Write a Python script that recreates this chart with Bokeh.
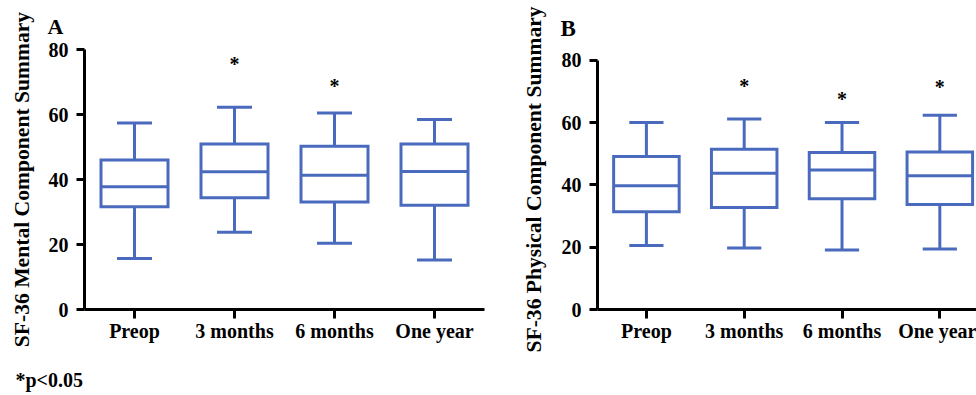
import numpy as np
from bokeh.plotting import figure
from bokeh.layouts import row
from bokeh.models import Range1d, FixedTicker, Title
from bokeh.core.properties import value
from bokeh.embed import file_html
from bokeh.resources import INLINE

categories = ["Preop", "3 months", "6 months", "One year"]

# Panel A: SF-36 Mental Component Summary
mcs_lower = [15.7, 23.8, 20.4, 15.2]
mcs_q1 = [31.6, 34.4, 33.1, 32.1]
mcs_median = [37.8, 42.4, 41.3, 42.5]
mcs_q3 = [46.0, 50.9, 50.2, 50.9]
mcs_upper = [57.4, 62.2, 60.5, 58.5]
mcs_star_x = [2, 3]
mcs_star_y = [76.5, 69.6]

# Panel B: SF-36 Physical Component Summary
pcs_lower = [20.5, 19.7, 19.1, 19.4]
pcs_q1 = [31.4, 32.7, 35.5, 33.7]
pcs_median = [39.7, 43.7, 44.8, 42.9]
pcs_q3 = [49.1, 51.4, 50.4, 50.5]
pcs_upper = [60.0, 61.1, 60.0, 62.3]
pcs_star_x = [2, 3, 4]
pcs_star_y = [72.8, 68.6, 72.2]

y_ticks = [0, 20, 40, 60, 80]

BLUE = "#4a6bbd"
FONT = value("Liberation Serif")
H = 395


def make_panel(width, borders, x_end, y_end, title, title_standoff, lower, q1, med, q3, upper,
               star_x, star_y, letter, letter_offset, letter_standoff, letter_size):
    left, right, top, bottom = borders
    p = figure(width=width, height=H, output_backend="svg", toolbar_location=None,
               x_range=Range1d(0.5, x_end), y_range=Range1d(0, y_end),
               min_border_left=left, min_border_right=right,
               min_border_top=top, min_border_bottom=bottom)
    p.outline_line_color = None
    p.grid.visible = False
    p.background_fill_color = "white"
    p.border_fill_color = "white"

    x = np.arange(1, len(categories) + 1, dtype=float)
    bw = 0.335
    cw = 0.175
    p.vbar(x=x, top=q3, bottom=q1, width=2 * bw, fill_color=None,
           line_color=BLUE, line_width=3, line_join="miter")
    p.segment(x0=x - bw, x1=x + bw, y0=med, y1=med, line_color=BLUE, line_width=3)
    p.segment(x0=x, x1=x, y0=q3, y1=upper, line_color=BLUE, line_width=3)
    p.segment(x0=x, x1=x, y0=q1, y1=lower, line_color=BLUE, line_width=3)
    p.segment(x0=x - cw, x1=x + cw, y0=upper, y1=upper, line_color=BLUE, line_width=3)
    p.segment(x0=x - cw, x1=x + cw, y0=lower, y1=lower, line_color=BLUE, line_width=3)

    p.text(x=star_x, y=star_y, text=["*"] * len(star_x), text_font=FONT,
           text_font_style="bold", text_font_size="20px", text_align="center",
           text_baseline="middle", text_color="black", y_offset=3)

    for ax in (p.xaxis[0], p.yaxis[0]):
        ax.axis_line_width = 3
        ax.axis_line_color = "black"
        ax.major_tick_line_width = 3
        ax.major_tick_line_color = "black"
        ax.major_tick_in = 0
        ax.minor_tick_line_color = None
        ax.major_label_text_font = "Liberation Serif"
        ax.major_label_text_font_style = "bold"
        ax.major_label_text_font_size = "20px"
        ax.major_label_text_color = "black"

    p.yaxis.ticker = FixedTicker(ticks=y_ticks)
    p.yaxis.bounds = (y_ticks[0], y_ticks[-1])
    p.yaxis.major_tick_out = 8
    p.yaxis.major_label_standoff = 8
    p.yaxis.axis_label = title
    p.yaxis.axis_label_text_font = "Liberation Serif"
    p.yaxis.axis_label_text_font_style = "bold"
    p.yaxis.axis_label_text_font_size = "21.6px"
    p.yaxis.axis_label_text_color = "black"
    p.yaxis.axis_label_standoff = title_standoff

    p.xaxis.ticker = FixedTicker(ticks=list(x))
    p.xaxis.major_label_overrides = {float(i): c for i, c in zip(x, categories)}
    p.xaxis.major_label_overrides.update({int(i): c for i, c in zip(x, categories)})
    p.xaxis.major_tick_out = 9
    p.xaxis.major_label_standoff = 1

    p.add_layout(Title(text=letter, align="left", offset=letter_offset,
                       standoff=letter_standoff, text_font="Liberation Serif",
                       text_font_style="bold", text_font_size=letter_size,
                       text_color="black"), "above")
    return p


pa = make_panel(490, (84, 6, 49, H - 309), 4.5, 80.0, "SF-36 Mental Component Summary", 12,
                mcs_lower, mcs_q1, mcs_median, mcs_q3, mcs_upper,
                mcs_star_x, mcs_star_y, "A", -37, 22, "22px")
pa.add_layout(Title(text="\n*p<0.05", align="left", offset=-69, standoff=0,
                    vertical_align="bottom",
                    text_font="Liberation Serif", text_font_style="bold",
                    text_font_size="20px", text_color="black"), "below")

pb = make_panel(486, (107, 0, 49, H - 309), 4.375, 83.43, "SF-36 Physical Component Summary", 13,
                pcs_lower, pcs_q1, pcs_median, pcs_q3, pcs_upper,
                pcs_star_x, pcs_star_y, "B", -37, 18, "23px")

layout = row(pa, pb, spacing=0)
open("out.html", "w").write(file_html(layout, INLINE))
